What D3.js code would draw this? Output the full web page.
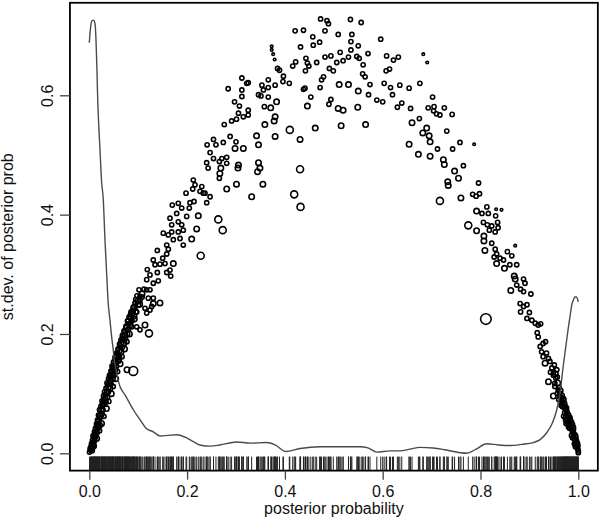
<!DOCTYPE html>
<html><head><meta charset="utf-8">
<script src="https://cdn.jsdelivr.net/npm/d3@7"></script>
<style>body{margin:0;background:#fff}svg{display:block}text{font-family:"Liberation Sans",Arial,sans-serif}</style>
</head><body>
<svg id="c" width="600" height="522"></svg>
<script>
const xTickValues=[0,0.2,0.4,0.6,0.8,1.0];
const yTickValues=[0,0.2,0.4,0.6];
const xLabel="posterior probability";
const yLabel="st.dev. of posterior prob";

// kernel density of posterior probabilities (x, scaled density)
const densityCurve=[[0.000,0.688],[0.0025,0.713],[0.0055,0.725],[0.0086,0.726],[0.0117,0.720],[0.0137,0.693],[0.0157,0.642],[0.0172,0.592],[0.0198,0.542],[0.0219,0.508],[0.0249,0.458],[0.0286,0.425],[0.0321,0.357],[0.0362,0.290],[0.0382,0.257],[0.0423,0.223],[0.0464,0.190],[0.0491,0.173],[0.0505,0.160],[0.0546,0.140],[0.0587,0.123],[0.0628,0.112],[0.073,0.098],[0.090,0.073],[0.104,0.056],[0.116,0.042],[0.131,0.036],[0.145,0.029],[0.161,0.030],[0.179,0.031],[0.196,0.027],[0.210,0.021],[0.226,0.014],[0.247,0.012],[0.267,0.014],[0.301,0.019],[0.329,0.017],[0.363,0.018],[0.380,0.014],[0.402,0.003],[0.431,0.008],[0.472,0.011],[0.513,0.011],[0.553,0.011],[0.570,0.009],[0.588,0.002],[0.615,0.004],[0.635,0.004],[0.656,0.007],[0.676,0.010],[0.703,0.009],[0.727,0.006],[0.758,0.001],[0.772,0.000],[0.791,0.007],[0.813,0.016],[0.836,0.014],[0.860,0.013],[0.885,0.015],[0.908,0.018],[0.922,0.023],[0.935,0.034],[0.946,0.049],[0.956,0.073],[0.963,0.103],[0.969,0.145],[0.975,0.182],[0.979,0.207],[0.983,0.229],[0.987,0.250],[0.990,0.257],[0.993,0.262],[0.996,0.262],[1.000,0.254]];

// [posterior probability, st.dev., weight level]
const arcTop=[[0.473,0.728,2],[0.486,0.725,2],[0.489,0.720,2],[0.534,0.727,2],[0.556,0.722,2],[0.421,0.708,2],[0.438,0.709,2],[0.482,0.708,2],[0.457,0.698,2],[0.509,0.702,2],[0.537,0.702,2],[0.596,0.694,2],[0.471,0.689,2],[0.458,0.684,2],[0.535,0.690,2],[0.550,0.683,2],[0.432,0.681,2],[0.373,0.682,1],[0.373,0.676,1],[0.376,0.669,1],[0.379,0.660,1],[0.494,0.666,2],[0.482,0.664,2],[0.513,0.672,2],[0.535,0.676,2],[0.570,0.670,2],[0.608,0.666,2],[0.622,0.659,2],[0.632,0.664,2],[0.547,0.665,2],[0.552,0.662,2],[0.530,0.664,2],[0.519,0.658,2],[0.506,0.655,2],[0.443,0.662,2],[0.446,0.654,2],[0.422,0.656,2],[0.416,0.649,2],[0.465,0.655,2],[0.449,0.649,2],[0.442,0.641,2],[0.385,0.645,2],[0.389,0.642,2],[0.491,0.645,2],[0.499,0.641,2],[0.560,0.651,2],[0.607,0.641,2],[0.614,0.644,2],[0.559,0.636,2],[0.564,0.631,2],[0.574,0.618,2],[0.550,0.607,3],[0.571,0.601,2],[0.588,0.592,2],[0.600,0.589,2],[0.603,0.620,2],[0.616,0.613,2],[0.620,0.601,2],[0.630,0.580,2],[0.549,0.580,3],[0.509,0.578,3],[0.519,0.575,3],[0.530,0.618,3],[0.511,0.618,3],[0.475,0.626,2],[0.479,0.631,2],[0.472,0.613,2],[0.438,0.610,2],[0.441,0.612,2],[0.453,0.597,2],[0.446,0.582,3],[0.494,0.593,2],[0.490,0.585,2],[0.397,0.632,2],[0.396,0.623,2],[0.409,0.620,2],[0.515,0.549,3],[0.565,0.551,3],[0.462,0.545,3],[0.410,0.542,4],[0.431,0.526,3],[0.431,0.476,4],[0.419,0.434,4],[0.432,0.413,4],[0.332,0.430,3],[0.355,0.451,3],[0.301,0.451,3],[0.281,0.443,3],[0.346,0.487,3],[0.349,0.478,3],[0.344,0.472,3],[0.305,0.483,3],[0.304,0.478,3],[0.346,0.517,3],[0.342,0.532,3],[0.380,0.531,3],[0.359,0.551,3],[0.380,0.564,3],[0.378,0.557,3],[0.371,0.579,3],[0.383,0.589,3],[0.358,0.581,2],[0.366,0.597,2],[0.351,0.599,2],[0.346,0.601,2],[0.356,0.609,2],[0.366,0.613,2],[0.353,0.617,2],[0.366,0.626,2],[0.380,0.617,2],[0.325,0.621,2],[0.322,0.620,2],[0.312,0.629,2],[0.312,0.609,2],[0.312,0.598,2],[0.284,0.611,2],[0.297,0.589,2],[0.307,0.582,2],[0.325,0.575,2],[0.325,0.567,2],[0.315,0.564,2],[0.305,0.570,2],[0.301,0.560,2],[0.291,0.557,2],[0.276,0.551,2],[0.288,0.531,2],[0.300,0.522,2],[0.298,0.511,3],[0.315,0.511,3],[0.274,0.521,2],[0.254,0.526,2],[0.241,0.517,2],[0.259,0.517,2],[0.247,0.504,2],[0.254,0.494,2],[0.240,0.487,2],[0.243,0.478,2],[0.266,0.489,2],[0.271,0.494,2],[0.281,0.496,2],[0.281,0.486,2],[0.269,0.478,3],[0.267,0.469,3],[0.266,0.461,2],[0.230,0.447,2],[0.233,0.436,2],[0.247,0.430,2]];

const arcRight=[[0.683,0.669,1],[0.691,0.655,1],[0.635,0.617,2],[0.654,0.612,2],[0.676,0.620,2],[0.702,0.597,2],[0.639,0.587,2],[0.657,0.578,2],[0.693,0.579,2],[0.705,0.581,2],[0.726,0.579,2],[0.704,0.574,2],[0.710,0.569,2],[0.717,0.567,2],[0.742,0.568,2],[0.675,0.561,2],[0.660,0.554,3],[0.690,0.545,3],[0.682,0.537,3],[0.695,0.532,3],[0.697,0.522,3],[0.731,0.540,2],[0.654,0.518,3],[0.673,0.501,3],[0.697,0.498,3],[0.712,0.510,2],[0.743,0.510,2],[0.758,0.521,2],[0.787,0.518,1],[0.724,0.492,3],[0.726,0.484,3],[0.765,0.482,2],[0.747,0.473,3],[0.755,0.461,3],[0.733,0.455,3],[0.734,0.449,3],[0.796,0.453,2],[0.784,0.434,2],[0.798,0.435,2],[0.760,0.428,3],[0.717,0.423,4],[0.791,0.431,2],[0.813,0.413,2],[0.832,0.409,1],[0.843,0.408,1],[0.792,0.406,3],[0.803,0.402,2],[0.816,0.402,2],[0.831,0.398,2],[0.775,0.382,4],[0.792,0.373,3],[0.806,0.387,2],[0.814,0.383,2],[0.823,0.381,2],[0.835,0.387,2],[0.836,0.378,2],[0.818,0.374,2],[0.830,0.371,2],[0.807,0.364,3],[0.807,0.356,3],[0.823,0.352,2],[0.871,0.348,1],[0.809,0.340,3],[0.830,0.342,2],[0.833,0.334,2],[0.855,0.338,2],[0.864,0.331,2],[0.828,0.329,2],[0.840,0.327,2],[0.847,0.324,2],[0.833,0.318,3],[0.849,0.310,3],[0.860,0.316,2],[0.874,0.316,2],[0.869,0.297,3],[0.871,0.292,3],[0.888,0.292,2],[0.891,0.285,2],[0.874,0.282,2],[0.862,0.273,3],[0.882,0.275,2],[0.888,0.271,2],[0.903,0.267,2],[0.811,0.225,6],[0.881,0.251,2],[0.888,0.246,2],[0.895,0.249,2],[0.882,0.237,2],[0.900,0.236,2],[0.895,0.226,2],[0.905,0.223,2],[0.912,0.218,2],[0.918,0.215,2],[0.923,0.217,2],[0.916,0.202,2],[0.918,0.195,2],[0.928,0.184,2],[0.922,0.179,2],[0.933,0.187,2],[0.925,0.170,2],[0.935,0.168,2],[0.928,0.162,2],[0.939,0.159,2],[0.932,0.151,3],[0.942,0.154,2],[0.946,0.143,2],[0.949,0.136,2],[0.943,0.136,2],[0.949,0.131,2],[0.939,0.120,3],[0.952,0.117,2],[0.952,0.112,2],[0.949,0.096,3],[0.959,0.106,2],[0.963,0.095,2]];

const rightBand=[[0.962,0.101,2],[0.966,0.093,2],[0.968,0.086,2],[0.970,0.089,2],[0.972,0.079,2],[0.974,0.073,2],[0.976,0.076,2],[0.976,0.066,2],[0.978,0.061,2],[0.980,0.056,2],[0.982,0.051,2],[0.984,0.046,2],[0.986,0.041,2],[0.988,0.036,2],[0.990,0.029,2],[0.992,0.024,2],[0.994,0.019,2],[0.996,0.014,2],[0.998,0.009,2],[1.000,0.004,2],[1.000,0.001,2],[0.994,0.011,2],[0.988,0.026,2],[0.982,0.042,2],[0.978,0.052,2],[0.972,0.068,2],[0.968,0.078,2],[0.964,0.086,2],[0.984,0.056,2],[0.990,0.039,2],[0.996,0.022,2],[0.999,0.007,2],[0.974,0.056,2],[0.980,0.044,2],[0.957,0.100,2],[0.960,0.090,2],[0.965,0.080,2],[0.970,0.062,2],[0.975,0.050,2],[0.986,0.030,2],[0.992,0.016,2],[0.954,0.126,2],[0.956,0.140,2],[0.951,0.148,2],[0.958,0.118,3],[0.961,0.110,2],[0.967,0.097,2],[0.971,0.083,3],[0.977,0.070,2],[0.983,0.060,2],[0.987,0.048,3],[0.991,0.033,2],[0.995,0.027,2],[0.997,0.017,3],[0.953,0.133,3],[0.957,0.128,2],[0.963,0.105,3],[0.969,0.091,3],[0.973,0.077,3],[0.979,0.064,3],[0.985,0.052,3],[0.989,0.043,3],[0.993,0.030,3],[0.998,0.013,3],[0.975,0.060,3],[0.981,0.048,3]];

const leftBand=[[0.0004,0.002,2],[0.0025,0.006,2],[0.0035,0.011,2],[0.0065,0.009,2],[0.0045,0.016,2],[0.0086,0.014,2],[0.0065,0.022,2],[0.0106,0.021,2],[0.0076,0.029,2],[0.0127,0.027,2],[0.0106,0.036,2],[0.0157,0.034,2],[0.0127,0.042,2],[0.0178,0.041,2],[0.0147,0.049,2],[0.0209,0.047,3],[0.0168,0.056,2],[0.0219,0.059,2],[0.0188,0.064,2],[0.0249,0.066,3],[0.0209,0.073,2],[0.028,0.073,2],[0.0239,0.079,2],[0.0301,0.083,3],[0.026,0.088,2],[0.0342,0.086,2],[0.029,0.096,2],[0.0362,0.094,3],[0.0311,0.103,2],[0.0393,0.103,2],[0.0342,0.109,2],[0.0423,0.109,3],[0.0362,0.118,2],[0.0444,0.116,2],[0.0393,0.125,2],[0.0474,0.125,3],[0.0413,0.131,2],[0.0505,0.131,2],[0.0444,0.138,2],[0.0526,0.140,3],[0.0464,0.146,2],[0.0556,0.146,2],[0.0495,0.153,2],[0.0587,0.155,3],[0.0526,0.161,2],[0.0618,0.161,2],[0.0556,0.168,2],[0.0648,0.170,3],[0.0587,0.175,2],[0.0679,0.178,2],[0.0618,0.183,2],[0.071,0.185,3],[0.0648,0.190,2],[0.074,0.193,2],[0.0679,0.198,2],[0.0771,0.200,3],[0.071,0.205,2],[0.0802,0.208,2],[0.0751,0.213,2],[0.0832,0.215,3],[0.0781,0.222,2],[0.0873,0.222,2],[0.0812,0.228,2],[0.0914,0.230,3],[0.0853,0.237,2],[0.0955,0.237,2],[0.0894,0.244,2],[0.0996,0.249,3],[0.0935,0.252,2],[0.1037,0.257,2],[0.0975,0.264,2],[0.1078,0.267,3],[0.1016,0.274,2],[0.1119,0.275,2]];

const leftBandOuter=[[0.010,0.012,2],[0.015,0.025,3],[0.021,0.038,2],[0.025,0.050,3],[0.030,0.062,2],[0.035,0.075,3],[0.040,0.087,2],[0.045,0.100,3],[0.049,0.112,2],[0.054,0.125,3],[0.058,0.137,2],[0.063,0.150,3],[0.067,0.162,2],[0.072,0.175,3],[0.077,0.187,2],[0.082,0.200,3],[0.087,0.212,2],[0.092,0.225,3],[0.097,0.237,2],[0.103,0.250,3],[0.108,0.262,2],[0.005,0.005,3],[0.012,0.032,2],[0.019,0.055,2],[0.027,0.080,2],[0.033,0.098,2],[0.038,0.115,2],[0.043,0.128,2],[0.048,0.142,2],[0.053,0.157,2],[0.058,0.168,2],[0.063,0.180,2],[0.068,0.192,2],[0.073,0.205,2],[0.079,0.217,2],[0.084,0.232,2],[0.090,0.240,2],[0.095,0.258,2]];

const leftBandInner=[[0.003,0.008,3],[0.008,0.018,3],[0.011,0.030,3],[0.014,0.040,3],[0.018,0.052,3],[0.022,0.063,3],[0.025,0.072,3],[0.028,0.082,3],[0.032,0.092,3],[0.036,0.101,3],[0.039,0.111,3],[0.042,0.121,3],[0.046,0.132,3],[0.050,0.144,3],[0.054,0.152,3],[0.057,0.163,3],[0.061,0.172,3],[0.065,0.184,3],[0.069,0.195,3],[0.073,0.198,3],[0.076,0.210,3],[0.080,0.221,3],[0.085,0.227,3],[0.088,0.235,3],[0.092,0.245,3],[0.099,0.255,3],[0.017,0.046,3],[0.031,0.088,3],[0.047,0.137,3],[0.060,0.158,3]];

const leftScatter=[[0.0771,0.140,3],[0.090,0.138,5],[0.1221,0.201,4],[0.1139,0.215,3],[0.1037,0.207,2],[0.0969,0.212,2],[0.1174,0.235,2],[0.1276,0.246,2],[0.1309,0.251,3],[0.1446,0.252,3],[0.1037,0.263,2],[0.1207,0.260,2],[0.1309,0.260,2],[0.1139,0.243,2],[0.1241,0.240,2],[0.1241,0.274,2],[0.1174,0.274,2],[0.1174,0.291,2],[0.1411,0.289,2],[0.1309,0.285,2],[0.1186,0.308,2],[0.1241,0.299,2],[0.165,0.307,2],[0.1583,0.303,2],[0.1391,0.303,2],[0.1665,0.297,2],[0.1446,0.317,2],[0.1309,0.324,2],[0.1344,0.316,2],[0.1548,0.318,2],[0.1718,0.318,3],[0.1501,0.327,2],[0.2278,0.331,4],[0.1583,0.334,2],[0.1616,0.342,2],[0.1391,0.340,2],[0.1922,0.349,2],[0.1583,0.349,2],[0.1718,0.358,2],[0.1855,0.360,2],[0.2094,0.359,3],[0.1616,0.366,2],[0.1513,0.369,2],[0.182,0.371,2],[0.1685,0.371,2],[0.1922,0.374,2],[0.2196,0.376,3],[0.2728,0.374,4],[0.2638,0.392,4],[0.189,0.383,2],[0.1685,0.383,2],[0.182,0.388,2],[0.165,0.394,2],[0.1787,0.402,2],[0.1992,0.397,2],[0.2229,0.398,3],[0.189,0.411,2],[0.2045,0.411,2],[0.1697,0.416,2],[0.182,0.419,2],[0.2059,0.420,2],[0.2141,0.422,2],[0.2401,0.420,2],[0.1978,0.436,2],[0.2115,0.443,2],[0.2264,0.439,2],[0.2366,0.436,2],[0.2162,0.450,2],[0.2127,0.458,2]];

const allPoints=[].concat(arcTop,arcRight,rightBand,leftBand,leftBandOuter,leftBandInner,leftScatter);

const svg=d3.select('#c');
const x=d3.scaleLinear().domain([0,1]).range([89.3,578.3]);
const y=d3.scaleLinear().domain([0,0.6]).range([453.3,95.3]);
const xExt=d3.extent(allPoints,d=>d[0]);
const yMax=d3.max(densityCurve,d=>d[1]);
const xLo=xExt[0]-0.04*(xExt[1]-xExt[0]), xHi=xExt[1]+0.04*(xExt[1]-xExt[0]);
const yLo=-0.04*yMax, yHi=1.04*yMax;
const rScale=d3.scaleOrdinal().domain([1,2,3,4,5,6]).range([1.3,2.1,2.7,3.5,4.4,5.3]);

// points
svg.append('g').selectAll('circle').data(allPoints).join('circle')
  .attr('cx',d=>x(d[0])).attr('cy',d=>y(d[1])).attr('r',d=>rScale(d[2]))
  .attr('fill','none').attr('stroke','#000').attr('stroke-width',1.6);

// density
svg.append('path').datum(densityCurve)
  .attr('d',d3.line().x(d=>x(d[0])).y(d=>y(d[1])).curve(d3.curveMonotoneX))
  .attr('fill','none').attr('stroke','#4a4a4a').attr('stroke-width',1.4);

// rug
const boxBottom=y(yLo);
svg.append('g').selectAll('line').data(allPoints).join('line')
  .attr('x1',d=>x(d[0])).attr('x2',d=>x(d[0]))
  .attr('y1',boxBottom).attr('y2',boxBottom-14)
  .attr('stroke','#222').attr('stroke-width',1);

// box
svg.append('rect').attr('x',x(xLo)).attr('y',y(yHi))
  .attr('width',x(xHi)-x(xLo)).attr('height',y(yLo)-y(yHi))
  .attr('fill','none').attr('stroke','#000').attr('stroke-width',1.8);

// x axis
const gx=svg.append('g').attr('transform',`translate(0,${boxBottom})`)
  .call(d3.axisBottom(x).tickValues(xTickValues).tickFormat(d3.format('.1f')).tickSize(9));
gx.select('.domain').remove();
gx.selectAll('line').attr('stroke','#444').attr('stroke-width',1.3);
gx.selectAll('text').attr('y',26).attr('dy',0).attr('font-size',16).attr('fill','#111')
  .style('font-family','"Liberation Sans",Arial,sans-serif');

// y axis
const gy=svg.append('g').attr('transform',`translate(${x(xLo)},0)`)
  .call(d3.axisLeft(y).tickValues(yTickValues).tickFormat(d3.format('.1f')).tickSize(10));
gy.select('.domain').remove();
gy.selectAll('line').attr('stroke','#444').attr('stroke-width',1.3);
gy.selectAll('text').attr('x',null).attr('dy',0).attr('text-anchor','middle')
  .attr('transform','translate(-17,0) rotate(-90)').attr('font-size',16).attr('fill','#111')
  .style('font-family','"Liberation Sans",Arial,sans-serif');

// titles
const cx=(x(xLo)+x(xHi))/2, cy=(y(yLo)+y(yHi))/2;
svg.append('text').attr('x',cx).attr('y',514).attr('text-anchor','middle')
  .attr('font-size',16).attr('fill','#111').text(xLabel);
svg.append('text').attr('transform',`translate(13,${cy}) rotate(-90)`).attr('text-anchor','middle')
  .attr('font-size',16).attr('fill','#111').text(yLabel);
</script>
</body></html>
